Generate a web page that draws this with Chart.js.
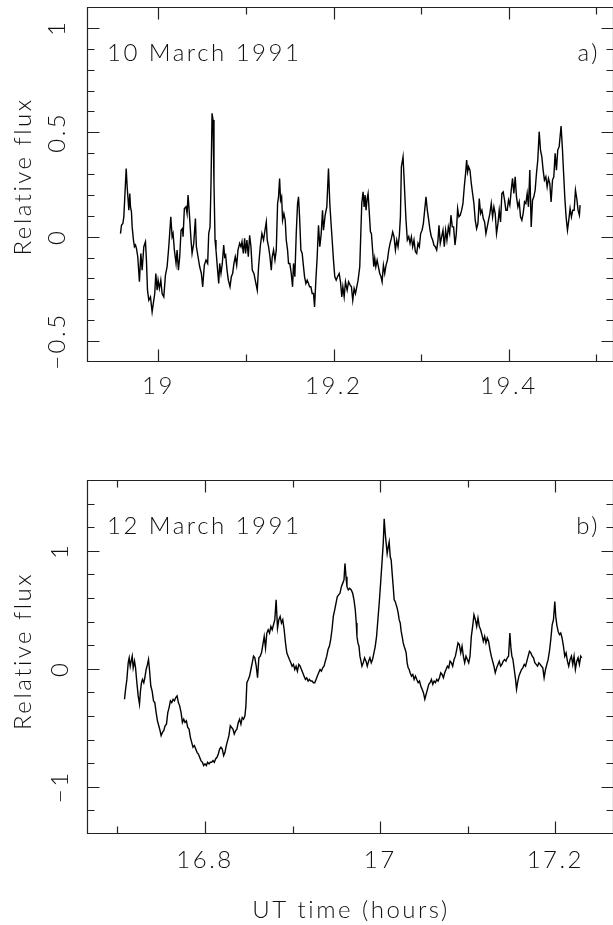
<!DOCTYPE html>
<html>
<head>
<meta charset="utf-8">
<script src="https://cdn.jsdelivr.net/npm/chart.js@4.4.1/dist/chart.umd.min.js"></script>
<style>
  html, body { margin: 0; padding: 0; background: #fff; overflow: hidden; }
  body { width: 613px; height: 925px; position: relative; }
  canvas { position: absolute; left: 0; }
  #chartA { top: 0; }
  #chartB { top: 440px; }
</style>
</head>
<body>
<canvas id="chartA" width="640" height="440"></canvas>
<canvas id="chartB" width="640" height="485"></canvas>
<script>
// panel a) 10 March 1991 -- UT hours / relative flux
const timeA = [
  18.9567,18.9578,18.9594,18.9605,18.9632,18.9643,18.9654,18.9662,18.9673,18.9681,
  18.9692,18.9700,18.9715,18.9726,18.9738,18.9749,18.9764,18.9783,18.9799,18.9814,
  18.9833,18.9852,18.9863,18.9875,18.9890,18.9909,18.9928,18.9947,18.9958,18.9970,
  18.9985,18.9996,19.0011,19.0027,19.0042,19.0061,19.0080,19.0099,19.0118,19.0141,
  19.0156,19.0167,19.0182,19.0201,19.0213,19.0228,19.0243,19.0258,19.0274,19.0281,
  19.0296,19.0315,19.0327,19.0338,19.0353,19.0372,19.0384,19.0403,19.0422,19.0433,
  19.0452,19.0471,19.0490,19.0505,19.0524,19.0543,19.0562,19.0574,19.0589,19.0600,
  19.0612,19.0623,19.0634,19.0646,19.0657,19.0672,19.0688,19.0699,19.0714,19.0729,
  19.0745,19.0756,19.0767,19.0783,19.0798,19.0817,19.0832,19.0847,19.0862,19.0877,
  19.0893,19.0908,19.0927,19.0942,19.0954,19.0969,19.0984,19.0995,19.1010,19.1026,
  19.1041,19.1056,19.1071,19.1090,19.1109,19.1128,19.1143,19.1162,19.1181,19.1200,
  19.1216,19.1231,19.1242,19.1257,19.1273,19.1288,19.1299,19.1314,19.1330,19.1345,
  19.1360,19.1371,19.1383,19.1394,19.1406,19.1417,19.1432,19.1447,19.1459,19.1474,
  19.1485,19.1500,19.1516,19.1531,19.1542,19.1557,19.1573,19.1588,19.1599,19.1611,
  19.1626,19.1641,19.1652,19.1668,19.1683,19.1698,19.1713,19.1725,19.1740,19.1755,
  19.1770,19.1782,19.1797,19.1812,19.1827,19.1842,19.1858,19.1873,19.1884,19.1903,
  19.1922,19.1941,19.1956,19.1968,19.1983,19.1998,19.2013,19.2029,19.2044,19.2063,
  19.2078,19.2093,19.2105,19.2120,19.2135,19.2154,19.2170,19.2189,
  19.2203,19.2218,19.2234,19.2249,19.2264,19.2279,19.2298,19.2310,19.2321,19.2336,
  19.2348,19.2359,19.2370,19.2382,19.2393,19.2405,19.2420,19.2431,19.2446,19.2458,
  19.2469,19.2481,19.2496,19.2511,19.2526,19.2541,19.2553,19.2568,19.2583,19.2598,
  19.2614,19.2629,19.2644,19.2659,19.2674,19.2689,19.2705,19.2720,19.2735,19.2750,
  19.2762,19.2773,19.2792,19.2803,19.2815,19.2826,19.2841,19.2857,19.2872,19.2887,
  19.2902,19.2917,19.2933,19.2948,19.2963,19.2978,19.2993,19.3009,19.3024,19.3039,
  19.3054,19.3069,19.3085,19.3100,19.3115,19.3130,19.3145,19.3160,19.3176,19.3191,
  19.3202,19.3217,19.3233,19.3248,19.3263,19.3278,19.3293,19.3309,19.3324,19.3339,
  19.3354,19.3369,19.3385,19.3400,19.3415,19.3430,19.3445,19.3461,19.3476,19.3491,
  19.3506,19.3518,19.3529,19.3540,19.3556,19.3571,19.3586,19.3601,19.3616,19.3632,
  19.3647,19.3662,19.3677,19.3692,19.3708,19.3723,19.3738,19.3753,19.3768,19.3783,
  19.3799,19.3814,19.3829,19.3844,19.3859,19.3875,19.3890,19.3905,19.3920,19.3935,
  19.3951,19.3966,19.3981,19.3996,19.4011,19.4027,19.4042,19.4057,19.4072,19.4087,
  19.4103,19.4118,19.4133,19.4148,19.4163,19.4179,19.4194,19.4209,19.4224,19.4239,
  19.4255,19.4270,19.4285,19.4300,19.4315,19.4330,19.4346,19.4361,19.4376,19.4391,
  19.4406,19.4422,19.4437,19.4452,19.4467,19.4482,19.4498,19.4513,19.4528,19.4543,
  19.4558,19.4574,19.4596,19.4612,19.4623,19.4638,19.4653,19.4669,19.4684,19.4699,
  19.4714,19.4729,19.4745,19.4760,19.4775,19.4790,19.4805,19.4813
];
const fluxA = [
  0.015,0.055,0.063,0.095,0.327,0.239,0.175,0.127,0.207,0.143,
  0.119,0.047,-0.016,-0.048,-0.040,-0.056,-0.096,-0.216,-0.080,-0.160,
  -0.048,-0.024,-0.112,-0.256,-0.304,-0.288,-0.360,-0.304,-0.272,-0.176,
  -0.256,-0.208,-0.248,-0.208,-0.272,-0.288,-0.184,-0.144,-0.048,0.095,
  0,0.015,-0.064,-0.128,-0.064,-0.160,-0.096,0.031,0.039,0,
  0.135,0.143,0.111,0.199,0.111,-0.016,-0.080,-0.032,0.087,-0.048,
  -0.096,-0.144,-0.176,-0.240,-0.136,-0.112,-0.128,0.015,0.047,0.255,
  0.591,0.559,0.255,-0.016,-0.064,-0.144,-0.224,-0.128,-0.176,-0.128,
  -0.040,-0.096,-0.088,-0.160,-0.208,-0.240,-0.192,-0.176,-0.128,-0.096,
  -0.136,-0.064,-0.032,-0.048,-0.024,-0.080,-0.008,-0.080,-0.016,-0.096,
  0.007,-0.048,-0.160,-0.176,-0.216,-0.256,-0.144,-0.048,0.015,-0.016,
  0.031,0.071,-0.016,-0.048,-0.096,-0.160,-0.096,-0.064,-0.112,-0.064,
  0.159,0.191,0.279,0.175,0.191,0.079,0.111,0.079,-0.016,-0.064,
  -0.128,-0.128,-0.176,-0.240,-0.128,-0.192,0.015,0.159,0.191,0.095,
  -0.064,-0.080,-0.128,-0.192,-0.224,-0.208,-0.224,-0.240,-0.240,-0.272,
  -0.272,-0.336,-0.208,-0.096,0.055,-0.048,0.015,0.127,0.031,0.103,
  0.143,0.327,0.159,0.079,-0.016,-0.112,-0.192,-0.208,-0.192,-0.176,
  -0.216,-0.288,-0.240,-0.288,-0.216,-0.256,-0.216,-0.232,
  -0.240,-0.304,-0.248,-0.272,-0.240,-0.208,-0.144,0.015,0.159,0.215,
  0.143,0.199,0.127,0.183,0.207,0.127,0.023,0.015,-0.072,-0.144,
  -0.104,-0.144,-0.112,-0.144,-0.176,-0.192,-0.216,-0.136,-0.176,-0.136,
  -0.112,-0.064,-0.032,-0.008,0.023,0,-0.064,-0.016,-0.048,0.007,
  0.095,0.335,0.383,0.287,0.175,0.079,-0.016,0,-0.032,0,
  -0.048,-0.016,-0.072,-0.080,-0.032,-0.048,0.015,0.031,0.063,0.127,
  0.191,0.127,0.079,0.031,0,-0.016,-0.040,-0.048,-0.064,-0.016,
  0.055,-0.032,0,0.031,-0.048,0.031,-0.016,0.047,0.015,0.103,
  0.047,0.047,-0.040,0.015,0.135,0.095,0.103,0.127,0.159,0.239,
  0.303,0.367,0.311,0.335,0.319,0.255,0.207,0.159,0.079,0.039,
  0.063,0.183,0.111,0.127,0.087,0.071,0.015,0.047,0.079,0.111,
  0.159,0.095,0.143,0.111,0.015,0.063,0.127,0.071,0.207,0.215,
  0.175,0.127,0.127,0.175,0.151,0.223,0.279,0.207,0.287,0.191,
  0.143,0.167,0.095,0.079,0.111,0.167,0.159,0.207,0.143,0.319,
  0.047,0.175,0.191,0.223,0.303,0.367,0.503,0.415,0.383,0.319,
  0.271,0.287,0.239,0.279,0.255,0.167,0.271,0.287,0.399,0.319,
  0.415,0.431,0.530,0.415,0.319,0.191,0.095,0.031,0.079,0.135,
  0.095,0.127,0.127,0.223,0.183,0.127,0.103,0.151
];

// panel b) 12 March 1991
const timeB = [
  16.7081,16.7093,16.7108,16.7123,16.7134,16.7146,16.7157,16.7169,16.7180,16.7195,
  16.7207,16.7222,16.7237,16.7252,16.7263,16.7275,16.7286,16.7301,16.7313,16.7328,
  16.7343,16.7355,16.7366,16.7381,16.7396,16.7412,16.7427,16.7442,16.7457,16.7472,
  16.7487,16.7499,16.7514,16.7529,16.7544,16.7560,16.7575,16.7590,16.7605,16.7620,
  16.7636,16.7651,16.7666,16.7681,16.7696,16.7711,16.7727,16.7742,16.7757,16.7772,
  16.7787,16.7803,16.7818,16.7833,16.7848,16.7863,16.7879,16.7894,16.7909,16.7924,
  16.7939,16.7954,16.7970,16.7985,16.8000,16.8015,16.8030,16.8046,16.8061,16.8076,
  16.8091,16.8106,16.8121,16.8137,16.8152,16.8167,16.8182,16.8197,16.8213,16.8228,
  16.8243,16.8258,16.8273,16.8289,16.8304,16.8319,16.8334,16.8349,16.8364,16.8380,
  16.8395,16.8410,16.8425,16.8440,16.8456,16.8467,16.8478,16.8494,16.8509,16.8524,
  16.8539,16.8554,16.8569,16.8585,16.8600,16.8615,16.8630,16.8645,16.8661,16.8676,
  16.8691,16.8706,16.8721,16.8737,16.8752,16.8767,16.8782,16.8797,16.8812,16.8828,
  16.8843,16.8858,16.8873,16.8888,16.8904,16.8919,16.8934,16.8949,16.8964,16.8980,
  16.8995,16.9010,16.9025,16.9040,16.9055,16.9071,16.9086,16.9101,16.9116,16.9131,
  16.9147,16.9162,16.9177,16.9192,16.9207,16.9222,16.9238,16.9253,16.9268,16.9283,
  16.9298,16.9314,16.9329,16.9344,16.9359,16.9374,16.9390,16.9405,16.9420,16.9435,
  16.9450,16.9465,16.9481,16.9496,16.9511,16.9526,16.9541,16.9557,16.9572,16.9587,
  16.9598,16.9610,16.9621,16.9636,16.9651,
  16.9670,16.9686,16.9701,16.9716,16.9727,16.9735,16.9746,16.9758,16.9769,16.9781,
  16.9792,16.9807,16.9822,16.9838,16.9853,16.9868,16.9883,16.9898,16.9913,16.9929,
  16.9944,16.9959,16.9974,16.9989,17.0005,17.0020,17.0035,17.0046,17.0058,17.0069,
  17.0080,17.0092,17.0103,17.0115,17.0126,17.0137,17.0149,17.0160,17.0172,17.0183,
  17.0194,17.0206,17.0217,17.0229,17.0240,17.0251,17.0263,17.0274,17.0286,17.0297,
  17.0308,17.0320,17.0331,17.0342,17.0358,17.0373,17.0388,17.0403,17.0418,17.0434,
  17.0449,17.0464,17.0479,17.0494,17.0510,17.0525,17.0540,17.0555,17.0570,17.0585,
  17.0601,17.0616,17.0631,17.0646,17.0661,17.0677,17.0692,17.0707,17.0722,17.0737,
  17.0752,17.0768,17.0783,17.0798,17.0813,17.0828,17.0844,17.0859,17.0874,17.0889,
  17.0904,17.0920,17.0935,17.0950,17.0965,17.0980,17.0995,17.1011,17.1026,17.1041,
  17.1056,17.1071,17.1087,17.1102,17.1117,17.1132,17.1147,17.1162,17.1178,17.1193,
  17.1208,17.1223,17.1238,17.1254,17.1269,17.1284,17.1299,17.1314,17.1330,17.1345,
  17.1360,17.1375,17.1390,17.1405,17.1421,17.1436,17.1451,17.1466,17.1481,17.1493,
  17.1504,17.1516,17.1531,17.1546,17.1557,17.1569,17.1584,17.1599,17.1614,17.1629,
  17.1645,17.1660,17.1675,17.1690,17.1705,17.1721,17.1736,17.1751,17.1766,17.1781,
  17.1797,17.1812,17.1827,17.1842,17.1857,17.1872,17.1888,17.1903,17.1918,17.1933,
  17.1948,17.1964,17.1979,17.1994,17.2005,17.2017,17.2032,17.2047,17.2062,17.2077,
  17.2093,17.2108,17.2123,17.2138,17.2153,17.2169,17.2184,17.2199,17.2214,17.2229,
  17.2245,17.2260,17.2275,17.2290,17.2301
];
const fluxB = [
  -0.258,-0.174,-0.090,0.051,0.093,0.022,0.065,0.107,0.008,0.065,
  0.008,-0.118,-0.230,-0.300,-0.188,-0.118,-0.090,-0.118,-0.076,-0.006,
  0.037,0.079,-0.006,-0.146,-0.188,-0.272,-0.286,-0.371,-0.441,-0.483,
  -0.525,-0.567,-0.539,-0.525,-0.483,-0.469,-0.371,-0.329,-0.272,-0.286,
  -0.258,-0.272,-0.244,-0.230,-0.286,-0.314,-0.371,-0.455,-0.427,-0.455,
  -0.441,-0.497,-0.511,-0.581,-0.623,-0.665,-0.651,-0.680,-0.708,-0.722,
  -0.750,-0.778,-0.792,-0.820,-0.806,-0.820,-0.792,-0.806,-0.792,-0.792,
  -0.778,-0.792,-0.764,-0.750,-0.722,-0.680,-0.665,-0.680,-0.736,-0.708,
  -0.651,-0.609,-0.567,-0.483,-0.497,-0.511,-0.553,-0.525,-0.511,-0.455,
  -0.427,-0.469,-0.413,-0.427,-0.399,-0.314,-0.118,-0.090,-0.062,-0.006,
  0.051,0.107,0.093,0.022,-0.076,0.093,0.107,0.135,0.205,0.275,
  0.177,0.303,0.331,0.303,0.359,0.331,0.373,0.416,0.584,0.345,
  0.416,0.444,0.388,0.416,0.331,0.219,0.135,0.107,0.079,0.051,
  0.022,0.037,-0.006,0.022,-0.020,0.037,0.022,-0.006,-0.034,-0.062,
  -0.090,-0.076,-0.104,-0.090,-0.104,-0.104,-0.118,-0.118,-0.090,-0.062,
  -0.034,-0.006,-0.020,0.008,0.022,0.065,0.107,0.163,0.191,0.247,
  0.331,0.444,0.500,0.556,0.612,0.626,0.640,0.696,0.724,0.753,
  0.893,0.781,0.696,0.668,0.682,
  0.668,0.640,0.584,0.500,0.388,0.275,0.219,0.191,0.107,0.065,
  0.022,0.051,0.093,0.065,0.022,0.065,0.093,0.051,0.079,0.135,
  0.191,0.275,0.416,0.556,0.724,0.893,1.061,1.272,1.146,1.061,
  0.977,1.033,1.075,0.949,0.921,0.809,0.696,0.584,0.570,0.542,
  0.514,0.472,0.416,0.388,0.317,0.275,0.219,0.191,0.163,0.135,
  0.051,0.008,-0.006,-0.034,-0.062,-0.048,-0.090,-0.062,-0.090,-0.118,
  -0.104,-0.146,-0.174,-0.202,-0.258,-0.216,-0.174,-0.132,-0.118,-0.090,
  -0.132,-0.104,-0.118,-0.090,-0.104,-0.076,-0.034,-0.048,-0.076,-0.034,
  -0.006,0.022,0.008,0.065,0.051,0.022,0.079,0.107,0.163,0.219,
  0.205,0.135,0.191,0.107,0.051,0.107,0.079,0.051,0.107,0.275,
  0.359,0.458,0.416,0.359,0.430,0.359,0.331,0.289,0.233,0.275,
  0.219,0.261,0.233,0.163,0.107,0.065,0.022,-0.034,0.008,0.037,
  0.065,0.022,0.037,0.065,0.079,0.065,0.093,0.107,0.303,0.177,
  0.107,0.079,-0.006,-0.090,-0.174,-0.118,-0.062,-0.034,-0.006,0.008,
  0.037,0.022,0.065,0.107,0.149,0.135,0.107,0.093,0.051,0.037,
  0.022,0.051,0.037,0.022,0.008,-0.076,-0.006,0.037,0.079,0.149,
  0.247,0.373,0.416,0.570,0.444,0.373,0.317,0.289,0.303,0.261,
  0.191,0.107,0.135,0.065,0.022,0.079,0.107,0.037,0.107,-0.006,
  0.065,0.093,0.037,0.107,0.093
];

// labelled (major) tick values; minor ticks fall every stepSize between them
const majorXA = [19, 19.2, 19.4];
const majorYA = [-0.5, 0, 0.5, 1];
const majorXB = [16.8, 17, 17.2];
const majorYB = [-1, 0, 1];

const SPACING = '2.5px';

Chart.defaults.font.family = 'Lato';
Chart.defaults.font.size = 24;
Chart.defaults.font.weight = '300';
Chart.defaults.color = '#111';

function isMajor(v, list) {
    return list.some(m => Math.abs(m - v) < 1e-6);
}

function fmt(v) {
    return String(Number(v.toFixed(2))).replace('-', '\u2212');
}

// frame with inward ticks on all four sides, date, panel letter, y title
const panelDecor = {
    id: 'panelDecor',
    beforeUpdate(chart) {
        // wide, plotter-like lettering for every text on the canvas
        chart.ctx.letterSpacing = SPACING;
    },
    afterDraw(chart, args, o) {
        const {ctx, chartArea: a, scales: {x, y}} = chart;
        const L = Math.round(a.left) - 0.5;
        const R = Math.round(a.right) - 0.5;
        const T = Math.round(a.top) + 0.5;
        const B = Math.round(a.bottom) - 0.5;
        ctx.save();
        ctx.strokeStyle = '#222';
        ctx.lineWidth = 1.2;
        ctx.beginPath();
        ctx.rect(L, T, R - L, B - T);
        x.ticks.forEach(t => {
            const p = Math.round(x.getPixelForValue(t.value)) + 0.5;
            if (p <= L + 1 || p >= R - 1) return;
            const len = isMajor(t.value, o.xMajor) ? 12 : 7;
            ctx.moveTo(p, B); ctx.lineTo(p, B - len);
            ctx.moveTo(p, T); ctx.lineTo(p, T + len);
        });
        y.ticks.forEach(t => {
            const p = Math.round(y.getPixelForValue(t.value)) + 0.5;
            if (p <= T + 1 || p >= B - 1) return;
            const len = isMajor(t.value, o.yMajor) ? 12 : 7;
            ctx.moveTo(L, p); ctx.lineTo(L + len, p);
            ctx.moveTo(R, p); ctx.lineTo(R - len, p);
        });
        ctx.stroke();

        ctx.fillStyle = '#111';
        ctx.font = '300 24px Lato';
        ctx.letterSpacing = SPACING;
        ctx.textBaseline = 'alphabetic';
        ctx.textAlign = 'left';
        ctx.fillText(o.date, a.left + 19, a.top + 54);
        ctx.textAlign = 'right';
        ctx.fillText(o.tag, a.left + 512, a.top + 54);

        ctx.translate(23, (a.top + a.bottom) / 2 - o.titleLift);
        ctx.rotate(-Math.PI / 2);
        ctx.textAlign = 'center';
        ctx.textBaseline = 'middle';
        ctx.fillText('Relative flux', 0, 0);
        ctx.restore();
    }
};

function makePanel(id, times, flux, p) {
    const points = times.map((t, i) => ({x: t, y: flux[i]}));
    return new Chart(document.getElementById(id), {
        type: 'line',
        data: {
            datasets: [{
                data: points,
                borderColor: '#000',
                borderWidth: 1.4,
                pointRadius: 0,
                tension: 0,
                fill: false
            }]
        },
        options: {
            responsive: false,
            animation: false,
            devicePixelRatio: 1,
            layout: {
                padding: {top: p.padTop, right: 26, left: 0, bottom: 0}
            },
            plugins: {
                legend: {display: false},
                tooltip: {enabled: false},
                panelDecor: {
                    date: p.date, tag: p.tag, titleLift: p.titleLift,
                    xMajor: p.xMajor, yMajor: p.yMajor
                }
            },
            scales: {
                x: {
                    type: 'linear',
                    min: p.xMin,
                    max: p.xMax,
                    grid: {display: false, drawTicks: false},
                    border: {display: false},
                    ticks: {
                        stepSize: 0.1,
                        includeBounds: false,
                        autoSkip: false,
                        maxRotation: 0,
                        minRotation: 0,
                        padding: p.xPad,
                        callback: v => isMajor(v, p.xMajor) ? fmt(v) : ''
                    },
                    title: {
                        display: !!p.xTitle,
                        text: p.xTitle || '',
                        padding: {top: 0, bottom: 0}
                    },
                    afterFit: s => {
                        s.height = p.xHeight;
                        s.paddingLeft = 0;
                        s.paddingRight = 0;
                    }
                },
                y: {
                    min: p.yMin,
                    max: p.yMax,
                    grid: {display: false, drawTicks: false},
                    border: {display: false},
                    ticks: {
                        stepSize: p.yStep,
                        autoSkip: false,
                        minRotation: 90,
                        maxRotation: 90,
                        crossAlign: 'center',
                        padding: p.yPad,
                        callback: v => isMajor(v, p.yMajor) ? fmt(v) : ''
                    },
                    afterFit: s => {
                        s.width = 88;
                        s.paddingTop = 0;
                        s.paddingBottom = 0;
                    }
                }
            }
        },
        plugins: [panelDecor]
    });
}

makePanel('chartA', timeA, fluxA, {
    date: '10 March 1991', tag: 'a)',
    xMin: 18.9196, xMax: 19.52, yMin: -0.6, yMax: 1.1, yStep: 0.1,
    xMajor: majorXA, yMajor: majorYA,
    padTop: 7, xHeight: 78, xPad: 10, yPad: 2, titleLift: 8
});

makePanel('chartB', timeB, fluxB, {
    date: '12 March 1991', tag: 'b)',
    xMin: 16.6664, xMax: 17.267, yMin: -1.4, yMax: 1.6, yStep: 0.2,
    xMajor: majorXB, yMajor: majorYB,
    padTop: 40, xHeight: 91, xPad: 12, yPad: 11, titleLift: 6,
    xTitle: 'UT time (hours)'
});
</script>
</body>
</html>
